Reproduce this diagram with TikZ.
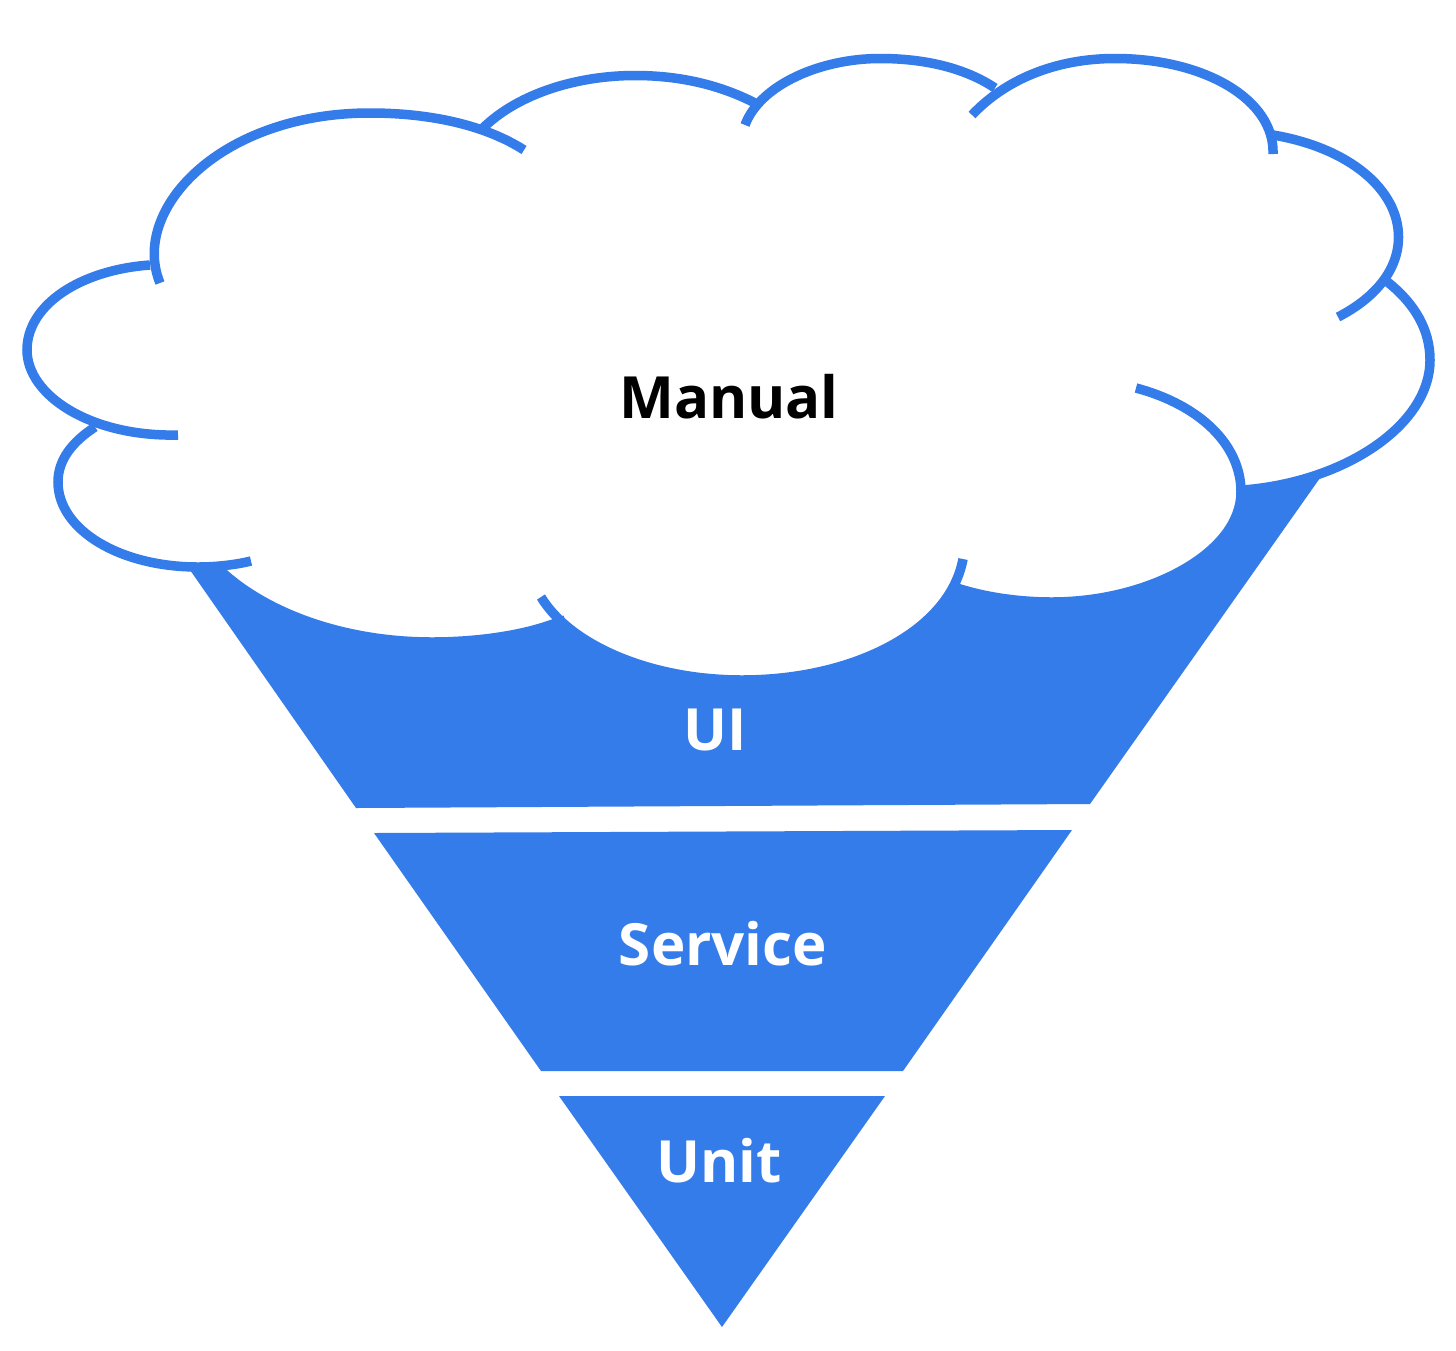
\documentclass[tikz,border=0pt]{standalone}
\usepackage{fontspec}
\setmainfont{Open Sans}
\definecolor{fblue}{HTML}{357CEB}
\tikzset{
  band/.style={fill=fblue,draw=none},
  lobe/.style={draw=fblue,line width=9.5pt,fill=none},
  lab/.style={font=\bfseries\fontsize{58.2}{60}\selectfont,inner sep=0pt,anchor=base},
}
\begin{document}
\begin{tikzpicture}[x=1pt,y=-1pt]
\useasboundingbox (0,0) rectangle (1456,1350);
\fill[white] (0,0) rectangle (1456,1350);
\fill[band] (190,570) -- (1320,478) -- (1090,804) -- (356,808) -- cycle;
\fill[band] (374,833) -- (1072,830) -- (903,1071) -- (541,1071) -- cycle;
\fill[band] (559,1096) -- (885,1096) -- (722,1327) -- cycle;
% cloud body
\fill[white] (160,283)
  .. controls (130,210) and (220,113) .. (370,113)
  .. controls (410,113) and (450,118) .. (483,128)
  .. controls (520,92) and (580,75.5) .. (635,75.5)
  .. controls (680,75.5) and (720,85) .. (755,103)
  .. controls (780,72) and (830,58.5) .. (880,58.5)
  .. controls (925,58.5) and (965,68) .. (995,88)
  .. controls (1030,68) and (1070,58.5) .. (1115,58.5)
  .. controls (1200,58.5) and (1262,90) .. (1273,135)
  .. controls (1350,148) and (1398.5,190) .. (1398.5,237)
  .. controls (1398.5,250) and (1393,265) .. (1385,280)
  .. controls (1415,303) and (1430,330) .. (1430,360)
  .. controls (1430,425) and (1345,482) .. (1243,490)
  .. controls (1240,552) and (1150,602) .. (1052,602)
  .. controls (1018,602) and (985,597) .. (957,588)
  .. controls (925,645) and (840,680) .. (742,680)
  .. controls (668.4,680) and (602.5,657.6) .. (564,624)
  -- (553,624)
  .. controls (520,636) and (475,642) .. (432,642)
  .. controls (345,642) and (268,614) .. (222,572)
  -- (218,565)
  -- (198,567)
  .. controls (120,567) and (58,530) .. (58,482)
  .. controls (58,460) and (72,442) .. (95,427)
  .. controls (55,412) and (27,385) .. (27,350)
  .. controls (27,305) and (80,270) .. (150,265) -- cycle;
% cloud outline
\draw[lobe] (160,283) .. controls (130,210) and (220,113) .. (370,113) .. controls (430,113) and (485,125) .. (524,150);
\draw[lobe] (483,128) .. controls (520,92) and (580,75.5) .. (635,75.5) .. controls (680,75.5) and (720,85) .. (755,103);
\draw[lobe] (745,125) .. controls (760,85) and (820,58.5) .. (880,58.5) .. controls (925,58.5) and (965,68) .. (995,88);
\draw[lobe] (972,115) .. controls (1005,80) and (1055,58.5) .. (1115,58.5) .. controls (1205,58.5) and (1275,100) .. (1273,154);
\draw[lobe] (1273,135) .. controls (1350,148) and (1398.5,190) .. (1398.5,237) .. controls (1398.5,270) and (1375,298) .. (1338,317);
\draw[lobe] (1385,280) .. controls (1415,303) and (1430,330) .. (1430,360) .. controls (1430,425) and (1345,482) .. (1243,490);
\draw[lobe] (1136,388) .. controls (1200,405) and (1241,445) .. (1241,492) .. controls (1241,552) and (1150,602) .. (1052,602) .. controls (1018,602) and (985,597) .. (957,588);
\draw[lobe] (963,559) .. controls (950,630) and (855,680) .. (742,680) .. controls (650,680) and (570,645) .. (541,597);
\draw[lobe] (565,620) -- (553,624) .. controls (520,636) and (475,642) .. (432,642) .. controls (345,642) and (268,614) .. (222,572) -- (216,566);
\draw[lobe] (251,561) .. controls (235,565) and (215,567) .. (198,567) .. controls (120,567) and (58,530) .. (58,482) .. controls (58,460) and (72,442) .. (95,427);
\draw[lobe] (178,435) .. controls (90,437) and (27,395) .. (27,350) .. controls (27,305) and (80,270) .. (150,265);
\node[lab,text=black] (manual) at (729,418) {Manual};
\node[lab,text=white] (ui) at (715,750) {UI};
\node[lab,text=white] (service) at (723,965) {Service};
\node[lab,text=white] (unit) at (719,1182) {Unit};
\end{tikzpicture}
\end{document}
